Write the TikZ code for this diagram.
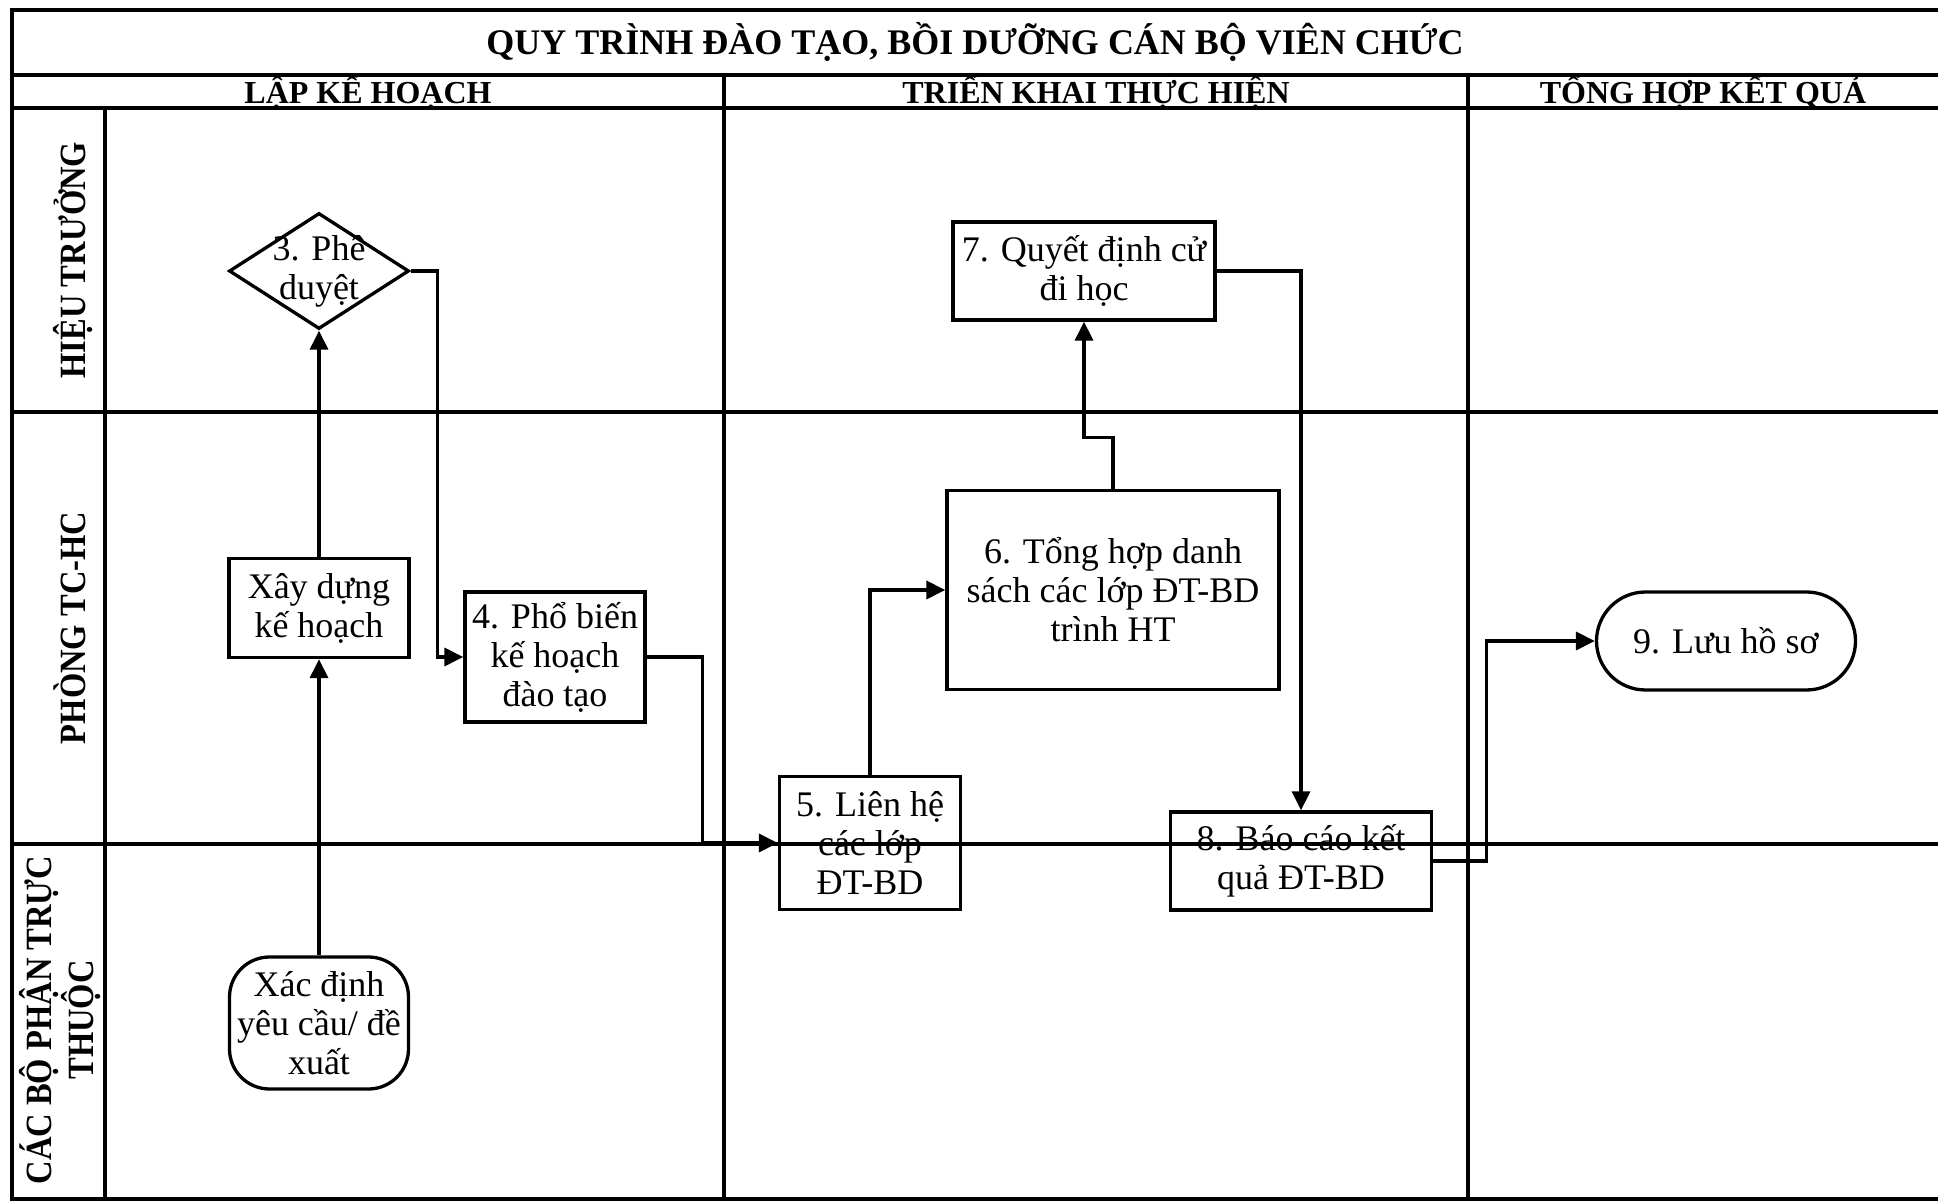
\documentclass[tikz,border=0pt]{standalone}
\usepackage{fontspec}
\setmainfont{Liberation Serif}
\newfontfamily\lanefamily[FakeStretch=0.88]{Liberation Serif}
\usetikzlibrary{arrows.meta,shapes.geometric}
\newcommand{\bodyfont}{\fontsize{18}{19.5}\selectfont}
\newcommand{\titlefont}{\bfseries\fontsize{18}{20}\selectfont}
\newcommand{\phasefont}{\bfseries\fontsize{16}{18}\selectfont}
\newcommand{\lanefont}{\lanefamily\bfseries\fontsize{18.5}{17}\selectfont}
\tikzset{
  flow/.style={rectangle,draw,line width=1.65pt,inner sep=0pt,align=center,font=\bodyfont},
  terminal/.style={rectangle,rounded corners=20pt,draw,line width=1.65pt,inner sep=0pt,align=center,font=\bodyfont},
  decision/.style={diamond,draw,line width=1.65pt,inner sep=0pt,minimum width=90pt,minimum height=58pt},
  lanelabel/.style={rotate=90,anchor=base,align=center,font=\lanefont,inner sep=0pt},
  phaselabel/.style={anchor=base,font=\phasefont,inner sep=0pt},
  arrow/.style={-{Triangle[length=9.5pt,width=9pt]},line width=1.65pt},
  line/.style={line width=1.65pt},
  frame/.style={line width=2pt}
}
\begin{document}
\begin{tikzpicture}[x=0.5pt,y=-0.5pt]
  \path[use as bounding box,fill=white] (0,0) rectangle (1938,1202);
  % frame and lanes
  \draw[frame] (1938,10) -- (12,10) -- (12,1199) -- (1938,1199);
  \foreach \y in {75,108,412,844} \draw[line] (12,\y) -- (1938,\y);
  \draw[line] (105,108) -- (105,1199);
  \draw[line] (724,75) -- (724,1199);
  \draw[line] (1468,75) -- (1468,1199);
  % headings
  \node[anchor=base,font=\titlefont,inner sep=0pt] (title) at (975,55) {QUY TRÌNH ĐÀO TẠO, BỒI DƯỠNG CÁN BỘ VIÊN CHỨC};
  \node[phaselabel] (plan) at (368,104) {LẬP KẾ HOẠCH};
  \node[phaselabel] (run) at (1096,104) {TRIỂN KHAI THỰC HIỆN};
  \node[phaselabel] (result) at (1703,104) {TỔNG HỢP KẾT QUẢ};
  \node[lanelabel] (head) at (85,260) {HIỆU TRƯỞNG};
  \node[lanelabel] (office) at (85,628) {PHÒNG TC-HC};
  \node[lanelabel] (units) at (93,1020) {CÁC BỘ PHẬN TRỰC\\THUỘC};
  % steps
  \node[terminal,minimum width=89.5pt,minimum height=66pt] (define) at (319,1023) {Xác định\\yêu cầu/ đề\\xuất};
  \node[flow,minimum width=90pt,minimum height=49.5pt] (build) at (319,608) {Xây dựng\\kế hoạch};
  \node[decision,label={[font=\bodyfont,align=center]center:3. Phê\\duyệt}] (approve) at (319,271) {};
  \node[flow,minimum width=90pt,minimum height=65pt] (spread) at (555,657) {4. Phổ biến\\kế hoạch\\đào tạo};
  \node[flow,minimum width=90.5pt,minimum height=66.5pt] (contact) at (870,843) {5. Liên hệ\\các lớp\\ĐT-BD};
  \node[flow,minimum width=166pt,minimum height=99.5pt] (summary) at (1113,590) {6. Tổng hợp danh\\sách các lớp ĐT-BD\\trình HT};
  \node[flow,minimum width=131pt,minimum height=49pt] (decide) at (1084,271) {7. Quyết định cử\\đi học};
  \node[flow,minimum width=130.5pt,minimum height=49pt] (report) at (1301,861) {8. Báo cáo kết\\quả ĐT-BD};
  \node[terminal,rounded corners=24.5pt,minimum width=129.5pt,minimum height=49pt] (archive) at (1726,641) {9. Lưu hồ sơ};
  % connectors
  \draw[arrow] (define) -- (build);
  \draw[arrow] (build) -- (approve);
  \draw[arrow] (approve.east) -- ++(27,0) |- (spread.west);
  \draw[arrow] (spread.east) -- ++(56,0) |- (contact.west);
  \draw[arrow] (contact.north) |- (summary.west);
  \draw[arrow] (summary.north) -- ++(0,-51) -| (decide.south);
  \draw[arrow] (decide.east) -| (report.north);
  \draw[arrow] (report.east) -- ++(53,0) |- (archive.west);
\end{tikzpicture}
\end{document}
